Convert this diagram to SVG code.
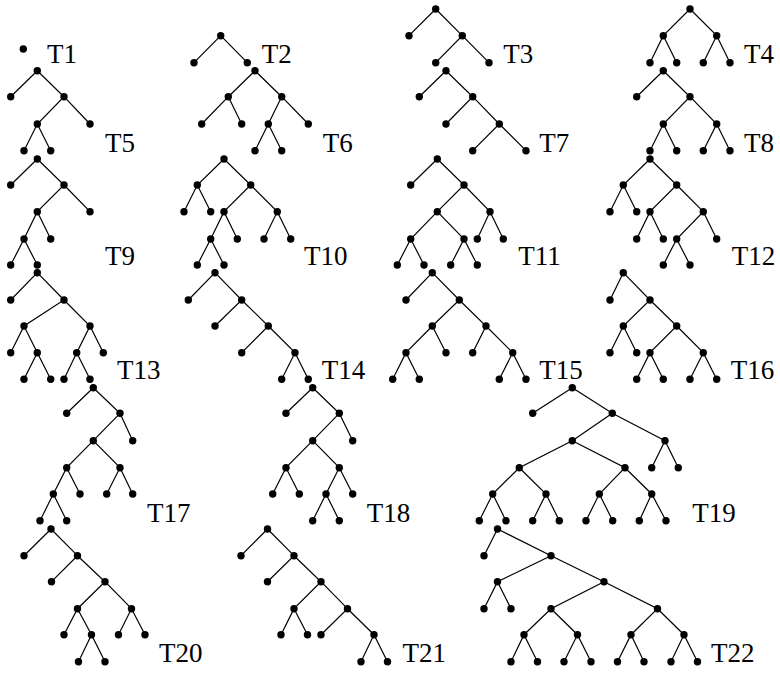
<svg xmlns="http://www.w3.org/2000/svg" width="780" height="673" viewBox="0 0 780 673">
<style>
.e{stroke:#000;stroke-width:1.2;fill:none}
circle{fill:#000}
</style>
<rect width="780" height="673" fill="#fff"/>
<g font-family="Liberation Serif" font-size="27">
<g id="T1">
<circle cx="23.3" cy="49" r="3.7"/>
<text x="47" y="63.3">T1</text>
</g>
<g id="T2">
<path class="e" d="M220.7 35.7L194 62.7M220.7 35.7L247.3 62.7"/>
<circle cx="220.7" cy="35.7" r="3.7"/><circle cx="194" cy="62.7" r="3.7"/><circle cx="247.3" cy="62.7" r="3.7"/>
<text x="261.7" y="63.3">T2</text>
</g>
<g id="T3">
<path class="e" d="M435.7 9L409 35.7M435.7 9L462.3 35.7L435.7 62.7M462.3 35.7L489 62.7"/>
<circle cx="435.7" cy="9" r="3.7"/><circle cx="409" cy="35.7" r="3.7"/><circle cx="462.3" cy="35.7" r="3.7"/><circle cx="435.7" cy="62.7" r="3.7"/><circle cx="489" cy="62.7" r="3.7"/>
<text x="503.3" y="63.3">T3</text>
</g>
<g id="T4">
<path class="e" d="M690 9L663.3 35.7L650 62.7M663.3 35.7L676.7 62.7M690 9L716.7 35.7L703.3 62.7M716.7 35.7L730 62.7"/>
<circle cx="690" cy="9" r="3.7"/><circle cx="663.3" cy="35.7" r="3.7"/><circle cx="716.7" cy="35.7" r="3.7"/><circle cx="650" cy="62.7" r="3.7"/><circle cx="676.7" cy="62.7" r="3.7"/><circle cx="703.3" cy="62.7" r="3.7"/><circle cx="730" cy="62.7" r="3.7"/>
<text x="744" y="63.3">T4</text>
</g>
<g id="T5">
<path class="e" d="M37.3 70.7L10.7 96.7M37.3 70.7L64 96.7L37.3 124L24 150.7M37.3 124L50.7 150.7M64 96.7L90 124"/>
<circle cx="37.3" cy="70.7" r="3.7"/><circle cx="10.7" cy="96.7" r="3.7"/><circle cx="64" cy="96.7" r="3.7"/><circle cx="37.3" cy="124" r="3.7"/><circle cx="90" cy="124" r="3.7"/><circle cx="24" cy="150.7" r="3.7"/><circle cx="50.7" cy="150.7" r="3.7"/>
<text x="105" y="151.7">T5</text>
</g>
<g id="T6">
<path class="e" d="M255 70.7L228.3 96.7L201.7 124M228.3 96.7L241.7 124M255 70.7L281.7 96.7L268.3 124L255 150.7M268.3 124L281.7 150.7M281.7 96.7L308.3 124"/>
<circle cx="255" cy="70.7" r="3.7"/><circle cx="228.3" cy="96.7" r="3.7"/><circle cx="281.7" cy="96.7" r="3.7"/><circle cx="201.7" cy="124" r="3.7"/><circle cx="241.7" cy="124" r="3.7"/><circle cx="268.3" cy="124" r="3.7"/><circle cx="308.3" cy="124" r="3.7"/><circle cx="255" cy="150.7" r="3.7"/><circle cx="281.7" cy="150.7" r="3.7"/>
<text x="322.7" y="151.7">T6</text>
</g>
<g id="T7">
<path class="e" d="M446 70.7L419.3 96.7M446 70.7L472.7 96.7L446 124M472.7 96.7L499.3 124L472.7 150.7M499.3 124L526 150.7"/>
<circle cx="446" cy="70.7" r="3.7"/><circle cx="419.3" cy="96.7" r="3.7"/><circle cx="472.7" cy="96.7" r="3.7"/><circle cx="446" cy="124" r="3.7"/><circle cx="499.3" cy="124" r="3.7"/><circle cx="472.7" cy="150.7" r="3.7"/><circle cx="526" cy="150.7" r="3.7"/>
<text x="539.3" y="151.7">T7</text>
</g>
<g id="T8">
<path class="e" d="M663.3 70.7L636.7 96.7M663.3 70.7L690 96.7L663.3 124L650 150.7M663.3 124L676.7 150.7M690 96.7L716.7 124L703.3 150.7M716.7 124L730 150.7"/>
<circle cx="663.3" cy="70.7" r="3.7"/><circle cx="636.7" cy="96.7" r="3.7"/><circle cx="690" cy="96.7" r="3.7"/><circle cx="663.3" cy="124" r="3.7"/><circle cx="716.7" cy="124" r="3.7"/><circle cx="650" cy="150.7" r="3.7"/><circle cx="676.7" cy="150.7" r="3.7"/><circle cx="703.3" cy="150.7" r="3.7"/><circle cx="730" cy="150.7" r="3.7"/>
<text x="744" y="151.7">T8</text>
</g>
<g id="T9">
<path class="e" d="M37.3 159L10.7 185M37.3 159L64 185L37.3 211.7L24 239L10.7 265M24 239L37.3 265M37.3 211.7L50.7 239M64 185L90 211.7"/>
<circle cx="37.3" cy="159" r="3.7"/><circle cx="10.7" cy="185" r="3.7"/><circle cx="64" cy="185" r="3.7"/><circle cx="37.3" cy="211.7" r="3.7"/><circle cx="90" cy="211.7" r="3.7"/><circle cx="24" cy="239" r="3.7"/><circle cx="50.7" cy="239" r="3.7"/><circle cx="10.7" cy="265" r="3.7"/><circle cx="37.3" cy="265" r="3.7"/>
<text x="105" y="265">T9</text>
</g>
<g id="T10">
<path class="e" d="M224 159L197.3 185L184 211.7M197.3 185L210.7 211.7M224 159L250.7 185L224 211.7L210.7 239L197.3 265M210.7 239L224 265M224 211.7L237.3 239M250.7 185L277.3 211.7L264 239M277.3 211.7L290.7 239"/>
<circle cx="224" cy="159" r="3.7"/><circle cx="197.3" cy="185" r="3.7"/><circle cx="250.7" cy="185" r="3.7"/><circle cx="184" cy="211.7" r="3.7"/><circle cx="210.7" cy="211.7" r="3.7"/><circle cx="224" cy="211.7" r="3.7"/><circle cx="277.3" cy="211.7" r="3.7"/><circle cx="210.7" cy="239" r="3.7"/><circle cx="237.3" cy="239" r="3.7"/><circle cx="264" cy="239" r="3.7"/><circle cx="290.7" cy="239" r="3.7"/><circle cx="197.3" cy="265" r="3.7"/><circle cx="224" cy="265" r="3.7"/>
<text x="304" y="265">T10</text>
</g>
<g id="T11">
<path class="e" d="M437.3 159L410.7 185M437.3 159L464 185L437.3 211.7L410.7 239L397.3 265M410.7 239L424 265M437.3 211.7L464 239L450.7 265M464 239L477.3 265M464 185L490 211.7L477.3 239M490 211.7L503.3 239"/>
<circle cx="437.3" cy="159" r="3.7"/><circle cx="410.7" cy="185" r="3.7"/><circle cx="464" cy="185" r="3.7"/><circle cx="437.3" cy="211.7" r="3.7"/><circle cx="490" cy="211.7" r="3.7"/><circle cx="410.7" cy="239" r="3.7"/><circle cx="464" cy="239" r="3.7"/><circle cx="477.3" cy="239" r="3.7"/><circle cx="503.3" cy="239" r="3.7"/><circle cx="397.3" cy="265" r="3.7"/><circle cx="424" cy="265" r="3.7"/><circle cx="450.7" cy="265" r="3.7"/><circle cx="477.3" cy="265" r="3.7"/>
<text x="518.3" y="265">T11</text>
</g>
<g id="T12">
<path class="e" d="M650 159L623.3 185L610 211.7M623.3 185L636.7 211.7M650 159L676.7 185L650 211.7L636.7 239M650 211.7L663.3 239M676.7 185L703.3 211.7L676.7 239L663.3 265M676.7 239L690 265M703.3 211.7L716.7 239"/>
<circle cx="650" cy="159" r="3.7"/><circle cx="623.3" cy="185" r="3.7"/><circle cx="676.7" cy="185" r="3.7"/><circle cx="610" cy="211.7" r="3.7"/><circle cx="636.7" cy="211.7" r="3.7"/><circle cx="650" cy="211.7" r="3.7"/><circle cx="703.3" cy="211.7" r="3.7"/><circle cx="636.7" cy="239" r="3.7"/><circle cx="663.3" cy="239" r="3.7"/><circle cx="676.7" cy="239" r="3.7"/><circle cx="716.7" cy="239" r="3.7"/><circle cx="663.3" cy="265" r="3.7"/><circle cx="690" cy="265" r="3.7"/>
<text x="731.7" y="265">T12</text>
</g>
<g id="T13">
<path class="e" d="M37.3 272.7L10.7 300M37.3 272.7L64 300L24 326L10.7 352.7M24 326L37.3 352.7L24 379.3M37.3 352.7L50.7 379.3M64 300L90 326L76.7 352.7L64 379.3M76.7 352.7L90 379.3M90 326L103.3 352.7"/>
<circle cx="37.3" cy="272.7" r="3.7"/><circle cx="10.7" cy="300" r="3.7"/><circle cx="64" cy="300" r="3.7"/><circle cx="24" cy="326" r="3.7"/><circle cx="90" cy="326" r="3.7"/><circle cx="10.7" cy="352.7" r="3.7"/><circle cx="37.3" cy="352.7" r="3.7"/><circle cx="76.7" cy="352.7" r="3.7"/><circle cx="103.3" cy="352.7" r="3.7"/><circle cx="24" cy="379.3" r="3.7"/><circle cx="50.7" cy="379.3" r="3.7"/><circle cx="64" cy="379.3" r="3.7"/><circle cx="90" cy="379.3" r="3.7"/>
<text x="117" y="379.3">T13</text>
</g>
<g id="T14">
<path class="e" d="M215 272.7L188.3 300M215 272.7L241.7 300L215 326M241.7 300L268.3 326L241.7 352.7M268.3 326L295 352.7L281.7 379.3M295 352.7L308.3 379.3"/>
<circle cx="215" cy="272.7" r="3.7"/><circle cx="188.3" cy="300" r="3.7"/><circle cx="241.7" cy="300" r="3.7"/><circle cx="215" cy="326" r="3.7"/><circle cx="268.3" cy="326" r="3.7"/><circle cx="241.7" cy="352.7" r="3.7"/><circle cx="295" cy="352.7" r="3.7"/><circle cx="281.7" cy="379.3" r="3.7"/><circle cx="308.3" cy="379.3" r="3.7"/>
<text x="321.7" y="379.3">T14</text>
</g>
<g id="T15">
<path class="e" d="M432.3 272.7L406 300M432.3 272.7L459.3 300L432.3 326L406 352.7L392.7 379.3M406 352.7L419.3 379.3M432.3 326L446 352.7M459.3 300L486 326L472.7 352.7M486 326L512.7 352.7L499.3 379.3M512.7 352.7L526 379.3"/>
<circle cx="432.3" cy="272.7" r="3.7"/><circle cx="406" cy="300" r="3.7"/><circle cx="459.3" cy="300" r="3.7"/><circle cx="432.3" cy="326" r="3.7"/><circle cx="486" cy="326" r="3.7"/><circle cx="406" cy="352.7" r="3.7"/><circle cx="446" cy="352.7" r="3.7"/><circle cx="472.7" cy="352.7" r="3.7"/><circle cx="512.7" cy="352.7" r="3.7"/><circle cx="392.7" cy="379.3" r="3.7"/><circle cx="419.3" cy="379.3" r="3.7"/><circle cx="499.3" cy="379.3" r="3.7"/><circle cx="526" cy="379.3" r="3.7"/>
<text x="539.3" y="379.3">T15</text>
</g>
<g id="T16">
<path class="e" d="M623.3 272.7L610 300M623.3 272.7L650 300L623.3 326L610 352.7M623.3 326L636.7 352.7M650 300L676.7 326L650 352.7L636.7 379.3M650 352.7L663.3 379.3M676.7 326L703.3 352.7L690 379.3M703.3 352.7L716.7 379.3"/>
<circle cx="623.3" cy="272.7" r="3.7"/><circle cx="610" cy="300" r="3.7"/><circle cx="650" cy="300" r="3.7"/><circle cx="623.3" cy="326" r="3.7"/><circle cx="676.7" cy="326" r="3.7"/><circle cx="610" cy="352.7" r="3.7"/><circle cx="636.7" cy="352.7" r="3.7"/><circle cx="650" cy="352.7" r="3.7"/><circle cx="703.3" cy="352.7" r="3.7"/><circle cx="636.7" cy="379.3" r="3.7"/><circle cx="663.3" cy="379.3" r="3.7"/><circle cx="690" cy="379.3" r="3.7"/><circle cx="716.7" cy="379.3" r="3.7"/>
<text x="730.7" y="379.3">T16</text>
</g>
<g id="T17">
<path class="e" d="M93.3 387.7L66.7 413.3M93.3 387.7L120 413.3L93.3 440.7L66.7 467.7L53.3 494L40 520.7M53.3 494L66.7 520.7M66.7 467.7L80 494M93.3 440.7L120 467.7L106.7 494M120 467.7L132.7 494M120 413.3L132.7 440.7"/>
<circle cx="93.3" cy="387.7" r="3.7"/><circle cx="66.7" cy="413.3" r="3.7"/><circle cx="120" cy="413.3" r="3.7"/><circle cx="93.3" cy="440.7" r="3.7"/><circle cx="132.7" cy="440.7" r="3.7"/><circle cx="66.7" cy="467.7" r="3.7"/><circle cx="120" cy="467.7" r="3.7"/><circle cx="53.3" cy="494" r="3.7"/><circle cx="80" cy="494" r="3.7"/><circle cx="106.7" cy="494" r="3.7"/><circle cx="132.7" cy="494" r="3.7"/><circle cx="40" cy="520.7" r="3.7"/><circle cx="66.7" cy="520.7" r="3.7"/>
<text x="147" y="521.7">T17</text>
</g>
<g id="T18">
<path class="e" d="M312.7 387.7L286 413.3M312.7 387.7L339.3 413.3L312.7 440.7L286 467.7L272.7 494M286 467.7L299.3 494M312.7 440.7L339.3 467.7L326 494L312.7 520.7M326 494L339.3 520.7M339.3 467.7L352.7 494M339.3 413.3L352.7 440.7"/>
<circle cx="312.7" cy="387.7" r="3.7"/><circle cx="286" cy="413.3" r="3.7"/><circle cx="339.3" cy="413.3" r="3.7"/><circle cx="312.7" cy="440.7" r="3.7"/><circle cx="352.7" cy="440.7" r="3.7"/><circle cx="286" cy="467.7" r="3.7"/><circle cx="339.3" cy="467.7" r="3.7"/><circle cx="272.7" cy="494" r="3.7"/><circle cx="299.3" cy="494" r="3.7"/><circle cx="326" cy="494" r="3.7"/><circle cx="352.7" cy="494" r="3.7"/><circle cx="312.7" cy="520.7" r="3.7"/><circle cx="339.3" cy="520.7" r="3.7"/>
<text x="366.7" y="521.7">T18</text>
</g>
<g id="T19">
<path class="e" d="M572.3 387.7L532.7 413.3M572.3 387.7L612.3 413.3L572.3 440.7L519.3 467.7L492.7 494L479.3 520.7M492.7 494L506 520.7M519.3 467.7L546 494L532.7 520.7M546 494L559.3 520.7M572.3 440.7L625 467.7L599.3 494L586 520.7M599.3 494L612.7 520.7M625 467.7L651.7 494L639.3 520.7M651.7 494L666 520.7M612.3 413.3L665 440.7L651.7 467.7M665 440.7L678.3 467.7"/>
<circle cx="572.3" cy="387.7" r="3.7"/><circle cx="532.7" cy="413.3" r="3.7"/><circle cx="612.3" cy="413.3" r="3.7"/><circle cx="572.3" cy="440.7" r="3.7"/><circle cx="665" cy="440.7" r="3.7"/><circle cx="519.3" cy="467.7" r="3.7"/><circle cx="625" cy="467.7" r="3.7"/><circle cx="651.7" cy="467.7" r="3.7"/><circle cx="678.3" cy="467.7" r="3.7"/><circle cx="492.7" cy="494" r="3.7"/><circle cx="546" cy="494" r="3.7"/><circle cx="599.3" cy="494" r="3.7"/><circle cx="651.7" cy="494" r="3.7"/><circle cx="479.3" cy="520.7" r="3.7"/><circle cx="506" cy="520.7" r="3.7"/><circle cx="532.7" cy="520.7" r="3.7"/><circle cx="559.3" cy="520.7" r="3.7"/><circle cx="586" cy="520.7" r="3.7"/><circle cx="612.7" cy="520.7" r="3.7"/><circle cx="639.3" cy="520.7" r="3.7"/><circle cx="666" cy="520.7" r="3.7"/>
<text x="692.3" y="521.7">T19</text>
</g>
<g id="T20">
<path class="e" d="M51 529L24 555.7M51 529L77.5 555.7L51.5 581.7M77.5 555.7L105 581.7L77.5 608.7L64 634.7M77.5 608.7L91.5 634.7L78.5 661.7M91.5 634.7L105 661.7M105 581.7L131.5 608.7L118.5 634.7M131.5 608.7L145 634.7"/>
<circle cx="51" cy="529" r="3.7"/><circle cx="24" cy="555.7" r="3.7"/><circle cx="77.5" cy="555.7" r="3.7"/><circle cx="51.5" cy="581.7" r="3.7"/><circle cx="105" cy="581.7" r="3.7"/><circle cx="77.5" cy="608.7" r="3.7"/><circle cx="131.5" cy="608.7" r="3.7"/><circle cx="64" cy="634.7" r="3.7"/><circle cx="91.5" cy="634.7" r="3.7"/><circle cx="118.5" cy="634.7" r="3.7"/><circle cx="145" cy="634.7" r="3.7"/><circle cx="78.5" cy="661.7" r="3.7"/><circle cx="105" cy="661.7" r="3.7"/>
<text x="159" y="661.7">T20</text>
</g>
<g id="T21">
<path class="e" d="M267.5 529L241 555.7M267.5 529L294 555.7L267.5 581.7M294 555.7L321 581.7L294 608.7L281 634.7M294 608.7L307.5 634.7M321 581.7L347.5 608.7L321 634.7M347.5 608.7L374 634.7L361 661.7M374 634.7L387.5 661.7"/>
<circle cx="267.5" cy="529" r="3.7"/><circle cx="241" cy="555.7" r="3.7"/><circle cx="294" cy="555.7" r="3.7"/><circle cx="267.5" cy="581.7" r="3.7"/><circle cx="321" cy="581.7" r="3.7"/><circle cx="294" cy="608.7" r="3.7"/><circle cx="347.5" cy="608.7" r="3.7"/><circle cx="281" cy="634.7" r="3.7"/><circle cx="307.5" cy="634.7" r="3.7"/><circle cx="321" cy="634.7" r="3.7"/><circle cx="374" cy="634.7" r="3.7"/><circle cx="361" cy="661.7" r="3.7"/><circle cx="387.5" cy="661.7" r="3.7"/>
<text x="402.5" y="661.7">T21</text>
</g>
<g id="T22">
<path class="e" d="M497.5 529L484 555.7M497.5 529L551 555.7L497.5 581.7L484 608.7M497.5 581.7L511 608.7M551 555.7L604 581.7L551 608.7L524 634.7L511 661.7M524 634.7L537.5 661.7M551 608.7L577.5 634.7L564 661.7M577.5 634.7L591 661.7M604 581.7L657.5 608.7L631 634.7L617.5 661.7M631 634.7L644 661.7M657.5 608.7L684 634.7L671 661.7M684 634.7L697.5 661.7"/>
<circle cx="497.5" cy="529" r="3.7"/><circle cx="484" cy="555.7" r="3.7"/><circle cx="551" cy="555.7" r="3.7"/><circle cx="497.5" cy="581.7" r="3.7"/><circle cx="604" cy="581.7" r="3.7"/><circle cx="484" cy="608.7" r="3.7"/><circle cx="511" cy="608.7" r="3.7"/><circle cx="551" cy="608.7" r="3.7"/><circle cx="657.5" cy="608.7" r="3.7"/><circle cx="524" cy="634.7" r="3.7"/><circle cx="577.5" cy="634.7" r="3.7"/><circle cx="631" cy="634.7" r="3.7"/><circle cx="684" cy="634.7" r="3.7"/><circle cx="511" cy="661.7" r="3.7"/><circle cx="537.5" cy="661.7" r="3.7"/><circle cx="564" cy="661.7" r="3.7"/><circle cx="591" cy="661.7" r="3.7"/><circle cx="617.5" cy="661.7" r="3.7"/><circle cx="644" cy="661.7" r="3.7"/><circle cx="671" cy="661.7" r="3.7"/><circle cx="697.5" cy="661.7" r="3.7"/>
<text x="711" y="661.7">T22</text>
</g>
</g>
</svg>
